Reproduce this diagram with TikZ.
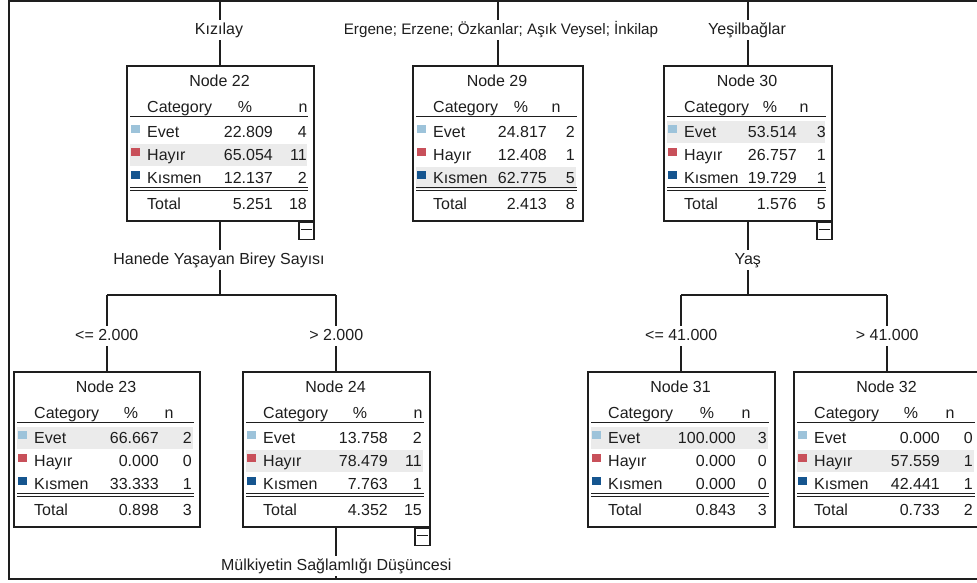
\documentclass[tikz,border=0pt]{standalone}
\usepackage{fontspec}
\setmainfont{Liberation Sans}
\definecolor{cEv}{HTML}{9DC3DA}
\definecolor{cHa}{HTML}{C8505A}
\definecolor{cKi}{HTML}{15558F}
\definecolor{hlgray}{HTML}{EBEBEB}
\definecolor{ink}{HTML}{1E1E1E}
\tikzset{
 txt/.style={font=\fontsize{16}{18}\selectfont, inner sep=0pt, text=ink},
 lbl/.style={txt, fill=white, inner xsep=1pt, inner ysep=3pt, text height=11pt, text depth=3pt},
 dtbox/.style={draw=ink, line width=1.5pt, fill=white, minimum height=155pt, inner sep=0pt},
 conn/.style={draw=ink, line width=1.6pt},
 thinrule/.style={draw=ink, line width=1pt},
 minusbox/.style={draw=ink, line width=1.2pt, fill=white, minimum width=15pt, minimum height=17pt, inner sep=0pt},
}
\newcommand\DTcols[4]{\def\pR{#1}\def\nR{#2}\def\pH{#3}\def\nH{#4}}
\newcommand\DTfill[9]{%
  \node[txt,anchor=base east] (#1-p1) at (\pR,72.5) {#2};
  \node[txt,anchor=base east] (#1-c1) at (\nR,72.5) {#3};
  \node[txt,anchor=base east] (#1-p2) at (\pR,95.5) {#4};
  \node[txt,anchor=base east] (#1-c2) at (\nR,95.5) {#5};
  \node[txt,anchor=base east] (#1-p3) at (\pR,118.5) {#6};
  \node[txt,anchor=base east] (#1-c3) at (\nR,118.5) {#7};
  \node[txt,anchor=base east] (#1-pt) at (\pR,144.5) {#8};
  \node[txt,anchor=base east] (#1-ct) at (\nR,144.5) {#9};
}
\newcommand\DTnode[8]{%
  \DTcols#7%
  \node[dtbox, minimum width=#4pt, anchor=north west] (#1) at (#2,#3) {};
  \begin{scope}[shift={(#2,#3)}]
    \fill[hlgray] (4,#6-11) rectangle (#4-6,#6+11);
    \node[txt,anchor=base] (#1-t) at (#4/2,21) {#5};
    \node[txt,anchor=base west] (#1-hc) at (21,47.5) {Category};
    \node[txt,anchor=base] (#1-hp) at (\pH,47.5) {\%};
    \node[txt,anchor=base] (#1-hn) at (\nH,47.5) {n};
    \draw[thinrule] (4,51) -- (#4-5,51);
    \fill[cEv] (5,60) rectangle (14,68);
    \fill[cHa] (5,83) rectangle (14,91);
    \fill[cKi] (5,106) rectangle (14,114);
    \node[txt,anchor=base west] (#1-l1) at (21,72.5) {Evet};
    \node[txt,anchor=base west] (#1-l2) at (21,95.5) {Hayır};
    \node[txt,anchor=base west] (#1-l3) at (21,118.5) {Kısmen};
    \node[txt,anchor=base west] (#1-lt) at (21,144.5) {Total};
    \DTfill{#1}#8%
    \draw[thinrule] (4,122) -- (#4-5,122);
    \draw[thinrule] (4,125) -- (#4-5,125);
  \end{scope}}
\begin{document}
\begin{tikzpicture}[x=1pt,y=-1pt]
\clip (0,0) rectangle (977,582);
\fill[white] (0,0) rectangle (977,582);
% frame
\coordinate (fTL) at (9,1);
\coordinate (fTR) at (985,1);
\coordinate (fBL) at (9,579);
\coordinate (fBR) at (985,579);
\draw[conn] (fTR) -- (fTL) -- (fBL) -- (fBR);

% tree nodes
\DTnode{n22}{126}{65}{187}{Node 22}{90}{{147}{181}{119}{177}}{{22.809}{4}{65.054}{11}{12.137}{2}{5.251}{18}}
\DTnode{n29}{412}{65}{170}{Node 29}{113}{{135}{163}{109}{144}}{{24.817}{2}{12.408}{1}{62.775}{5}{2.413}{8}}
\DTnode{n30}{663}{65}{168}{Node 30}{67}{{134}{163}{107}{141}}{{53.514}{3}{26.757}{1}{19.729}{1}{1.576}{5}}
\DTnode{n23}{13}{371}{186}{Node 23}{67}{{146}{179}{118}{156}}{{66.667}{2}{0.000}{0}{33.333}{1}{0.898}{3}}
\DTnode{n24}{242}{371}{187}{Node 24}{90}{{146}{180}{118}{176}}{{13.758}{2}{78.479}{11}{7.763}{1}{4.352}{15}}
\DTnode{n31}{587}{371}{187}{Node 31}{67}{{149}{180}{120}{159}}{{100.000}{3}{0.000}{0}{0.000}{0}{0.843}{3}}
\DTnode{n32}{793}{371}{187}{Node 32}{90}{{147}{180}{118}{157}}{{0.000}{0}{57.559}{1}{42.441}{1}{0.733}{2}}

% minus boxes
\foreach \m in {n22,n24,n30}{
  \node[minusbox, anchor=north east] (\m-m) at (\m.south east) {};
  \draw[thinrule] ([xshift=3pt,yshift=1.5pt]\m-m.west) -- ([xshift=-3pt,yshift=1.5pt]\m-m.east);
}

% top branches
\node[lbl, anchor=base] (k22) at (219,34) {Kızılay};
\node[lbl, anchor=base, font=\fontsize{15.2}{18}\selectfont] (k29) at (501,34) {Ergene; Erzene; Özkanlar; Aşık Veysel; İnkilap};
\node[lbl, anchor=base] (k30) at (747,34) {Yeşilbağlar};
\foreach \n/\k in {n22/k22,n29/k29,n30/k30}{
  \coordinate (\n-top) at (\n.north |- fTL);
  \draw[conn] (\n-top) -- (\n-top |- \k.north);
  \draw[conn] (\n-top |- \k.south) -- (\n.north);
}

% split of node 22
\node[lbl, anchor=base] (s22) at (219,264) {Hanede Yaşayan Birey Sayısı};
\draw[conn] (n22.south) -- (n22.south |- s22.north);
\coordinate (b22) at (n22.south |- 0,295);
\draw[conn] (n22.south |- s22.south) -- (b22);
\draw[conn] (b22 -| n23.north) -- (b22 -| n24.north);
\node[lbl, anchor=base] (e23) at (n23.north |- 0,340) {<= 2.000};
\node[lbl, anchor=base] (e24) at (n24.north |- 0,340) {> 2.000};
\draw[conn] (b22 -| n23.north) -- (n23.north |- e23.north);
\draw[conn] (n23.north |- e23.south) -- (n23.north);
\draw[conn] (b22 -| n24.north) -- (n24.north |- e24.north);
\draw[conn] (n24.north |- e24.south) -- (n24.north);

% split of node 24
\node[lbl, anchor=base] (s24) at (n24.south |- 0,570) {Mülkiyetin Sağlamlığı Düşüncesi};
\draw[conn] (n24.south) -- (n24.south |- s24.north);
\draw[conn] (n24.south |- s24.south) -- (n24.south |- fBL);

% split of node 30
\node[lbl, anchor=base] (s30) at (n30.south |- 0,264) {Yaş};
\draw[conn] (n30.south) -- (n30.south |- s30.north);
\coordinate (b30) at (n30.south |- 0,295);
\draw[conn] (n30.south |- s30.south) -- (b30);
\draw[conn] (b30 -| n31.north) -- (b30 -| n32.north);
\node[lbl, anchor=base] (e31) at (n31.north |- 0,340) {<= 41.000};
\node[lbl, anchor=base] (e32) at (n32.north |- 0,340) {> 41.000};
\draw[conn] (b30 -| n31.north) -- (n31.north |- e31.north);
\draw[conn] (n31.north |- e31.south) -- (n31.north);
\draw[conn] (b30 -| n32.north) -- (n32.north |- e32.north);
\draw[conn] (n32.north |- e32.south) -- (n32.north);
\end{tikzpicture}
\end{document}
